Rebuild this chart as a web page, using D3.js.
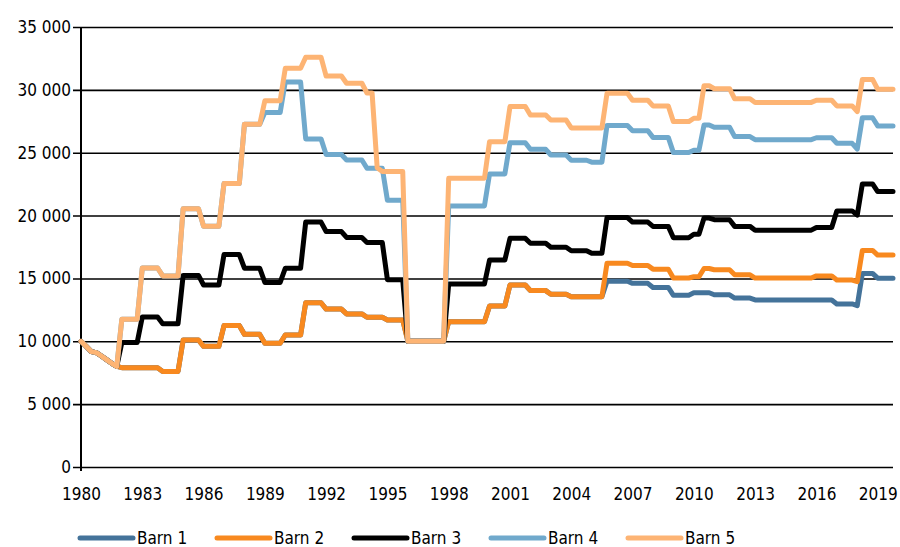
<!DOCTYPE html>
<html lang="no">
<head>
<meta charset="utf-8">
<script src="https://d3js.org/d3.v7.min.js"></script>
<style type="text/css">
body {
	margin: 0;
	background: #fff;
}
text {
	font-family: "Liberation Sans Narrow", "DejaVu Sans Condensed", "Roboto", sans-serif;
	font-size: 17px;
	fill: #000;
}
</style>
</head>
<body>
<script type="text/javascript">

// quarterly values, 1980Q1 - 2019Q4, one row per year
const barn1 = [
  10000, 9600, 9180, 9100,   8830, 8540, 8250, 8000,   7900, 7900, 7900, 7900,   7900, 7900, 7900, 7900,
  7600, 7600, 7600, 7600,    10100, 10100, 10100, 10100, 9600, 9600, 9600, 9600, 11250, 11250, 11250, 11250,
  10550, 10550, 10550, 10550, 9840, 9840, 9840, 9840, 10500, 10500, 10500, 10500, 13070, 13070, 13070, 13070,
  12560, 12560, 12560, 12560, 12180, 12180, 12180, 12180, 11910, 11910, 11910, 11910, 11700, 11700, 11700, 11700,
  10000, 10000, 10000, 10000, 10000, 10000, 10000, 10000, 11560, 11560, 11560, 11560, 11560, 11560, 11560, 11560,
  12810, 12810, 12810, 12810, 14480, 14480, 14480, 14480, 14030, 14030, 14030, 14030, 13740, 13740, 13740, 13740,
  13550, 13550, 13550, 13550, 13550, 13550, 13550, 14780, 14780, 14780, 14780, 14780, 14610, 14610, 14610, 14610,
  14280, 14280, 14280, 14280, 13660, 13660, 13660, 13660, 13860, 13860, 13860, 13860, 13700, 13700, 13700, 13700,
  13440, 13440, 13440, 13440, 13290, 13290, 13290, 13290, 13290, 13290, 13290, 13290, 13290, 13290, 13290, 13290,
  13290, 13290, 13290, 13290, 12970, 12970, 12970, 12970, 12830, 15400, 15400, 15400, 15020, 15020, 15020, 15020
]
const barn2 = [
  10000, 9600, 9180, 9100,   8830, 8540, 8250, 8000,   7900, 7900, 7900, 7900,   7900, 7900, 7900, 7900,
  7600, 7600, 7600, 7600,    10100, 10100, 10100, 10100, 9600, 9600, 9600, 9600, 11250, 11250, 11250, 11250,
  10550, 10550, 10550, 10550, 9840, 9840, 9840, 9840, 10500, 10500, 10500, 10500, 13070, 13070, 13070, 13070,
  12560, 12560, 12560, 12560, 12180, 12180, 12180, 12180, 11910, 11910, 11910, 11910, 11700, 11700, 11700, 11700,
  10000, 10000, 10000, 10000, 10000, 10000, 10000, 10000, 11560, 11560, 11560, 11560, 11560, 11560, 11560, 11560,
  12810, 12810, 12810, 12810, 14480, 14480, 14480, 14480, 14030, 14030, 14030, 14030, 13740, 13740, 13740, 13740,
  13550, 13550, 13550, 13550, 13550, 13550, 13550, 16210, 16210, 16210, 16210, 16210, 16030, 16030, 16030, 16030,
  15740, 15740, 15740, 15740, 15030, 15030, 15030, 15030, 15130, 15130, 15790, 15790, 15690, 15690, 15690, 15690,
  15290, 15290, 15290, 15290, 15030, 15030, 15030, 15030, 15030, 15030, 15030, 15030, 15030, 15030, 15030, 15030,
  15200, 15200, 15200, 15200, 14870, 14870, 14870, 14870, 14750, 17230, 17230, 17230, 16860, 16860, 16860, 16860
]
const barn3 = [
  10000, 9600, 9180, 9100,   8830, 8540, 8250, 8000,   9900, 9900, 9900, 9900,   11930, 11930, 11930, 11930,
  11400, 11400, 11400, 11400, 15240, 15240, 15240, 15240, 14480, 14480, 14480, 14480, 16900, 16900, 16900, 16900,
  15810, 15810, 15810, 15810, 14680, 14680, 14680, 14680, 15810, 15810, 15810, 15810, 19480, 19480, 19480, 19480,
  18730, 18730, 18730, 18730, 18260, 18260, 18260, 18260, 17850, 17850, 17850, 17850, 14900, 14900, 14900, 14900,
  10000, 10000, 10000, 10000, 10000, 10000, 10000, 10000, 14560, 14560, 14560, 14560, 14560, 14560, 14560, 14560,
  16470, 16470, 16470, 16470, 18190, 18190, 18190, 18190, 17800, 17800, 17800, 17800, 17480, 17480, 17480, 17480,
  17200, 17200, 17200, 17200, 17000, 17000, 17000, 19840, 19840, 19840, 19840, 19840, 19480, 19480, 19480, 19480,
  19140, 19140, 19140, 19140, 18230, 18230, 18230, 18230, 18520, 18520, 19800, 19800, 19670, 19670, 19670, 19670,
  19140, 19140, 19140, 19140, 18840, 18840, 18840, 18840, 18840, 18840, 18840, 18840, 18840, 18840, 18840, 18840,
  19050, 19050, 19050, 19050, 20370, 20370, 20370, 20370, 20040, 22520, 22520, 22520, 21910, 21910, 21910, 21910
]
const barn4 = [
  10000, 9600, 9180, 9100,   8830, 8540, 8250, 8000,   11750, 11750, 11750, 11750, 15830, 15830, 15830, 15830,
  15200, 15200, 15200, 15200, 20550, 20550, 20550, 20550, 19150, 19150, 19150, 19150, 22550, 22550, 22550, 22550,
  27270, 27270, 27270, 27270, 28200, 28200, 28200, 28200, 30630, 30630, 30630, 30630, 26100, 26100, 26100, 26100,
  24860, 24860, 24860, 24860, 24420, 24420, 24420, 24420, 23760, 23760, 23760, 23760, 21220, 21220, 21220, 21220,
  10000, 10000, 10000, 10000, 10000, 10000, 10000, 10000, 20770, 20770, 20770, 20770, 20770, 20770, 20770, 20770,
  23310, 23310, 23310, 23310, 25800, 25800, 25800, 25800, 25270, 25270, 25270, 25270, 24820, 24820, 24820, 24820,
  24400, 24400, 24400, 24400, 24250, 24250, 24250, 27170, 27170, 27170, 27170, 27170, 26750, 26750, 26750, 26750,
  26220, 26220, 26220, 26220, 25010, 25010, 25010, 25010, 25190, 25190, 27210, 27210, 27020, 27020, 27020, 27020,
  26280, 26280, 26280, 26280, 26040, 26040, 26040, 26040, 26040, 26040, 26040, 26040, 26040, 26040, 26040, 26040,
  26190, 26190, 26190, 26190, 25750, 25750, 25750, 25750, 25290, 27780, 27780, 27780, 27130, 27130, 27130, 27130
]
const barn5 = [
  10000, 9600, 9180, 9100,   8830, 8540, 8250, 8000,   11750, 11750, 11750, 11750, 15830, 15830, 15830, 15830,
  15200, 15200, 15200, 15200, 20550, 20550, 20550, 20550, 19150, 19150, 19150, 19150, 22550, 22550, 22550, 22550,
  27270, 27270, 27270, 27270, 29140, 29140, 29140, 29140, 31715, 31715, 31715, 31715, 32600, 32600, 32600, 32600,
  31100, 31100, 31100, 31100, 30525, 30525, 30525, 30525, 29750, 29750, 23800, 23500, 23500, 23500, 23500, 23500,
  10000, 10000, 10000, 10000, 10000, 10000, 10000, 10000, 22970, 22970, 22970, 22970, 22970, 22970, 22970, 22970,
  25880, 25880, 25880, 25880, 28670, 28670, 28670, 28670, 28000, 28000, 28000, 28000, 27600, 27600, 27600, 27600,
  26970, 26970, 26970, 26970, 26970, 26970, 26970, 29730, 29730, 29730, 29730, 29730, 29170, 29170, 29170, 29170,
  28720, 28720, 28720, 28720, 27475, 27475, 27475, 27475, 27740, 27740, 30330, 30330, 30090, 30090, 30090, 30090,
  29290, 29290, 29290, 29290, 29000, 29000, 29000, 29000, 29000, 29000, 29000, 29000, 29000, 29000, 29000, 29000,
  29170, 29170, 29170, 29170, 28720, 28720, 28720, 28720, 28270, 30830, 30830, 30830, 30050, 30050, 30050, 30050
]

const seriesNames = ['Barn 1', 'Barn 2', 'Barn 3', 'Barn 4', 'Barn 5']
const seriesColors = ['#44739a', '#f8891f', '#000000', '#70a9cc', '#fdb474']
const xTickLabels = [1980, 1983, 1986, 1989, 1992, 1995, 1998, 2001, 2004, 2007, 2010, 2013, 2016, 2019]
const yTickValues = [0, 5000, 10000, 15000, 20000, 25000, 30000, 35000]

const width = 900
const height = 547
const plotLeft = 81, plotRight = 893, plotTop = 27, plotBottom = 467

const allSeries = [barn1, barn2, barn3, barn4, barn5]

const x = d3.scaleLinear()
  .domain([0, barn1.length - 1])
  .range([plotLeft, plotRight])

const y = d3.scaleLinear()
  .domain([0, 35000])
  .range([plotBottom, plotTop])

const nb = d3.formatLocale({decimal: ',', thousands: ' ', grouping: [3], currency: ['', '']})
const fmt = nb.format(',')

const svg = d3.select('body')
  .append('svg')
  .attr('width', width)
  .attr('height', height)

// y axis with gridlines
const yAxis = svg.append('g')
  .attr('transform', `translate(${plotLeft},0)`)
  .call(d3.axisLeft(y).tickValues(yTickValues).tickSize(-(plotRight - plotLeft)).tickPadding(10).tickFormat(fmt))
yAxis.select('.domain').remove()
yAxis.selectAll('.tick line')
  .attr('x1', -8)
  .attr('stroke', '#000')
  .attr('stroke-width', 1.6)
yAxis.selectAll('.tick text')
  .attr('font-family', null)
  .attr('font-size', null)

// x axis labels (every third year = every 12th quarter)
const xAxis = svg.append('g')
  .attr('transform', `translate(0,${plotBottom})`)
  .call(d3.axisBottom(x)
    .tickValues(xTickLabels.map((yr, k) => k * 12))
    .tickSize(0)
    .tickPadding(21)
    .tickFormat((d, k) => xTickLabels[k]))
xAxis.select('.domain').remove()
xAxis.selectAll('.tick text')
  .attr('font-family', null)
  .attr('font-size', null)

// vertical axis line
svg.append('line')
  .attr('x1', plotLeft).attr('x2', plotLeft)
  .attr('y1', y(35000)).attr('y2', plotBottom + 4)
  .attr('stroke', '#000')
  .attr('stroke-width', 2)

const line = d3.line()
  .x((d, i) => x(i))
  .y(d => y(d))

svg.selectAll('path.series')
  .data(allSeries)
  .enter()
  .append('path')
  .attr('class', 'series')
  .attr('d', line)
  .attr('fill', 'none')
  .attr('stroke', (d, i) => seriesColors[i])
  .attr('stroke-width', 5)
  .attr('stroke-linejoin', 'round')
  .attr('stroke-linecap', 'round')

// legend
const legend = svg.selectAll('g.legend')
  .data(seriesNames)
  .enter()
  .append('g')
  .attr('class', 'legend')
  .attr('transform', (d, i) => `translate(${80 + i * 137},538)`)

legend.append('line')
  .attr('x1', 0).attr('x2', 53)
  .attr('y1', 0).attr('y2', 0)
  .attr('stroke', (d, i) => seriesColors[i])
  .attr('stroke-width', 5)
  .attr('stroke-linecap', 'round')

legend.append('text')
  .attr('x', 57)
  .attr('dy', '0.35em')
  .text(d => d)

</script>
</body>
</html>
